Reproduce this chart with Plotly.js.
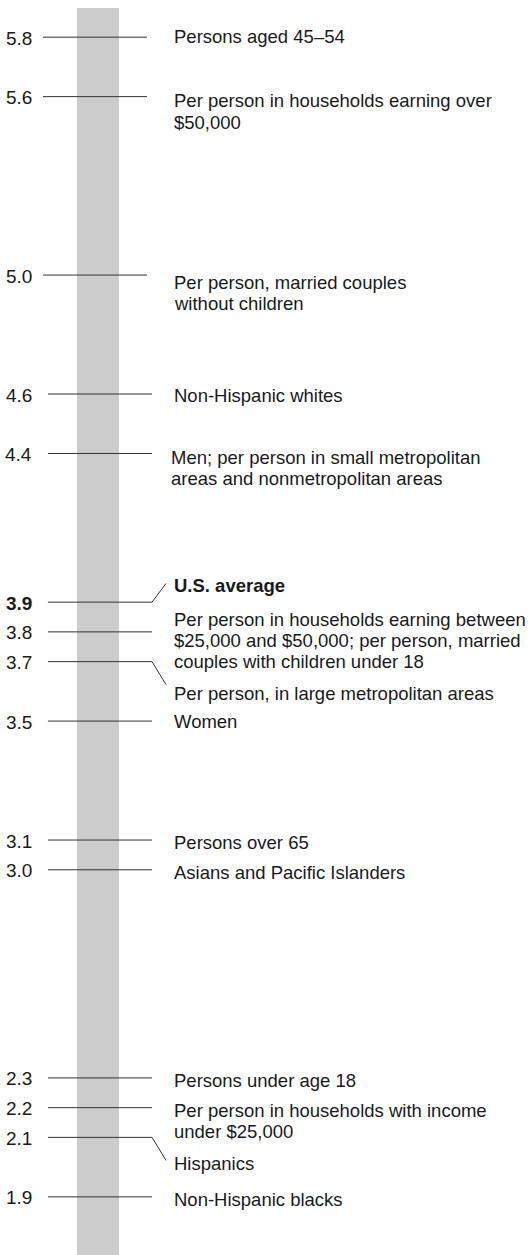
<!DOCTYPE html>
<html>
<head>
<meta charset="utf-8">
<script src="https://cdn.plot.ly/plotly-3.0.1.min.js"></script>
<style>
  html, body { margin: 0; padding: 0; background: #ffffff; }
  #chart { width: 532px; height: 1255px; }
</style>
</head>
<body>
<div id="chart"></div>
<script>
// ---- data ----
const values = [5.8, 5.6, 5.0, 4.6, 4.4, 3.9, 3.8, 3.7, 3.5, 3.1, 3.0, 2.3, 2.2, 2.1, 1.9];
const tickLabels = ['5.8', '5.6', '5.0', '4.6', '4.4', '3.9', '3.8', '3.7', '3.5', '3.1', '3.0', '2.3', '2.2', '2.1', '1.9'];
const categories = [
  ['Persons aged 45–54'],
  ['Per person in households earning over', '$50,000'],
  ['Per person, married couples', 'without children'],
  ['Non-Hispanic whites'],
  ['Men; per person in small metropolitan', 'areas and nonmetropolitan areas'],
  ['U.S. average'],
  ['Per person in households earning between', '$25,000 and $50,000; per person, married', 'couples with children under 18'],
  ['Per person, in large metropolitan areas'],
  ['Women'],
  ['Persons over 65'],
  ['Asians and Pacific Islanders'],
  ['Persons under age 18'],
  ['Per person in households with income', 'under $25,000'],
  ['Hispanics'],
  ['Non-Hispanic blacks']
];
const highlightLabel = 'U.S. average';

// ---- layout / style config (pixels) ----
const W = 532, H = 1255;
const yRange = [1.7045, 5.925];
const pxPerUnit = H / (yRange[1] - yRange[0]);
const barX = [77, 119];
const barTopPx = 8;
const tickStartX = [43, 43, 43, 48, 48, 48, 48, 48, 48, 48, 48, 48, 48, 48, 48];
const tickLen = 104;
const leaderEndX = 166;
const leaderDy = {5: -18.7, 7: 23, 13: 23};      // screen px, down positive
const textX = [172, 172, 172, 172, 169, 172, 172, 172, 172, 172, 172, 172, 172, 172, 172];
const firstLineDy = [-1.8, 3.1, 6.5, 0.8, 2.8, -17.5, -13.5, 30.8, -0.1, 1.8, 2.1, 1.9, 1.8, 24.8, 1.5];
const lineGap = 21.3;
const fontCorr = 1;   // box centre vs cap centre
const FONT = 'Liberation Sans, Arial, Helvetica, sans-serif';
const TEXT_COLOR = '#1a1a1a';
const LINE_COLOR = '#333333';

// ---- build ----
const lx = [], ly = [];
values.forEach((v, i) => {
  const x0 = tickStartX[i], x1 = x0 + tickLen;
  lx.push(x0, x1); ly.push(v, v);
  if (leaderDy[i] !== undefined) {
    lx.push(leaderEndX); ly.push(v - leaderDy[i] / pxPerUnit);
  }
  lx.push(null); ly.push(null);
});

const traces = [{
  type: 'scatter', mode: 'lines', x: lx, y: ly,
  line: {color: LINE_COLOR, width: 1}, hoverinfo: 'skip', showlegend: false,
  connectgaps: false
}];

const annotations = [];
values.forEach((v, i) => {
  const bold = categories[i][0] === highlightLabel;
  annotations.push({
    x: 34, y: v, xref: 'x', yref: 'y', xanchor: 'right', yanchor: 'middle',
    text: bold ? '<b>' + tickLabels[i] + '</b>' : tickLabels[i],
    showarrow: false, yshift: -fontCorr,
    font: {family: FONT, size: 19, color: TEXT_COLOR}
  });
  categories[i].forEach((line, k) => {
    const dy = firstLineDy[i] + k * lineGap;
    annotations.push({
      x: textX[i], y: v, xref: 'x', yref: 'y', xanchor: 'left', yanchor: 'middle',
      text: bold ? '<b>' + line + '</b>' : line,
      showarrow: false, yshift: -dy - fontCorr,
      font: {family: FONT, size: 18.5, color: TEXT_COLOR}
    });
  });
});

const layout = {
  width: W, height: H,
  margin: {l: 0, r: 0, t: 0, b: 0, pad: 0},
  paper_bgcolor: '#ffffff', plot_bgcolor: '#ffffff',
  xaxis: {range: [0, W], visible: false, fixedrange: true},
  yaxis: {range: yRange, visible: false, fixedrange: true},
  showlegend: false,
  shapes: [{
    type: 'rect', xref: 'x', yref: 'y', layer: 'below',
    x0: barX[0], x1: barX[1],
    y0: yRange[0], y1: yRange[1] - barTopPx / pxPerUnit,
    fillcolor: '#cccccc', line: {width: 0}
  }],
  annotations: annotations
};

Plotly.newPlot('chart', traces, layout, {staticPlot: true, displayModeBar: false});
</script>
</body>
</html>
